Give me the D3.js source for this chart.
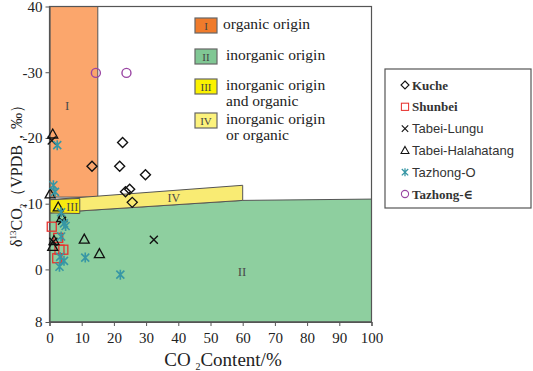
<!DOCTYPE html>
<html>
<head>
<meta charset="utf-8">
<script src="https://cdn.jsdelivr.net/npm/d3@7"></script>
<style>
  body { margin: 0; background: #fff; }
  svg { display: block; }
</style>
</head>
<body>
<svg id="chart" width="533" height="371"></svg>
<script>
// axis ticks
const xTicks = [0, 10, 20, 30, 40, 50, 60, 70, 80, 90, 100];
const yTicks = [-40, -30, -20, -10, 0, 8];
const yTickLabels = ["40", "-30", "-20", "-10", "0", "8"];

// genesis regions (CO2 %, d13C)
const regionI = [[0, -40], [15, -40], [15, -11], [0, -11]];
const regionII = [[0, -8.6], [60, -10.5], [100, -10.7], [100, 8], [0, 8]];
const regionIV = [[0, -10.6], [60, -12.8], [60, -10.5], [0, -8.6]];
const regionIII = [[0, -10.6], [9.4, -10.8], [9.4, -8.5], [0, -8.6]];

// sample series
const kuche = [[22.7, -19.3], [13.2, -15.7], [21.8, -15.7], [29.8, -14.4], [24.9, -12.2], [23.6, -11.8], [25.7, -10.2]];
const shunbei = [[0.7, -6.5], [2.7, -4.8], [3.1, -3.0], [4.3, -3.0], [2.4, -1.7]];
const tabeiLungu = [[0.7, -19.6], [3.9, -7.4], [1.2, -4.2], [32.4, -4.5]];
const tabeiHalahatang = [[1.0, -20.6], [0.2, -11.5], [2.7, -9.5], [3.8, -7.9], [1.4, -4.4], [1.0, -3.5], [10.8, -4.6], [15.5, -2.4]];
const tazhongO = [[2.4, -18.9], [1.2, -12.8], [1.7, -11.8], [3.6, -8.7], [4.5, -7.0], [5.0, -6.6], [3.6, -5.0], [3.3, -1.9], [4.5, -1.3], [3.1, -0.4], [11.1, -1.8], [22.0, 0.8]];
const tazhongE = [[14.4, -29.9], [23.9, -29.9]];

const svg = d3.select("#chart");
const serif = "'Liberation Serif', 'DejaVu Serif', serif";
const sans = "'Liberation Sans', Arial, sans-serif";

const x = d3.scaleLinear().domain([0, 100]).range([49.5, 371.5]);
const y = d3.scaleLinear().domain([-40, 8]).range([6.5, 322]);

const line = d3.line().x(d => x(d[0])).y(d => y(d[1]));
const poly = (pts, fill) =>
  svg.append("path")
    .attr("d", line(pts) + "Z")
    .attr("fill", fill)
    .attr("stroke", "#555")
    .attr("stroke-width", 1);

// regions
poly(regionI, "#fba66c");
poly(regionII, "#8ecf9f");
poly(regionIV, "#f9eb73");
poly(regionIII, "#f7ea10");

const roman = (t, px, py, size) =>
  svg.append("text")
    .attr("x", px).attr("y", py)
    .attr("text-anchor", "middle")
    .attr("font-family", serif)
    .attr("font-size", size)
    .attr("fill", "#4a4a4a")
    .text(t);

roman("I", x(5.5), y(-24.3), 13);
roman("II", x(59.8), y(1.0), 13);
roman("III", x(7.1), y(-8.9), 12);
roman("IV", x(38.6), y(-10.3), 12);

// frame
svg.append("rect")
  .attr("x", x(0)).attr("y", y(-40))
  .attr("width", x(100) - x(0)).attr("height", y(8) - y(-40))
  .attr("fill", "none").attr("stroke", "#555").attr("stroke-width", 1.2);

// axes
const xAxis = svg.append("g")
  .attr("transform", `translate(0,${y(8)})`)
  .call(d3.axisBottom(x).tickValues(xTicks).tickSize(4).tickPadding(6));
const yAxis = svg.append("g")
  .attr("transform", `translate(${x(0)},0)`)
  .call(d3.axisLeft(y).tickValues(yTicks).tickSize(4).tickPadding(3)
    .tickFormat((d, i) => yTickLabels[i]));
[xAxis, yAxis].forEach(a => {
  a.select(".domain").attr("stroke", "#555").attr("stroke-width", 1.2);
  a.selectAll(".tick line").attr("stroke", "#555");
  a.selectAll(".tick text")
    .attr("font-family", serif).attr("font-size", 15).attr("fill", "#222");
});
yAxis.selectAll(".tick").filter(d => d === -40 || d === 8).select("line").remove();

// axis titles
const xt = svg.append("text")
  .attr("x", 223).attr("y", 366)
  .attr("text-anchor", "middle")
  .attr("font-family", serif).attr("font-size", 19).attr("fill", "#222");
xt.append("tspan").text("CO ");
xt.append("tspan").attr("font-size", 10).attr("dy", 4).text("2");
xt.append("tspan").attr("dy", -4).text("Content/%");

const yt = svg.append("text")
  .attr("transform", "translate(22,172) rotate(-90)")
  .attr("text-anchor", "middle")
  .attr("font-family", serif).attr("font-size", 16).attr("fill", "#222");
yt.append("tspan").text("δ");
yt.append("tspan").attr("font-size", 9).attr("dy", -6).text("13");
yt.append("tspan").attr("dy", 6).text("CO");
yt.append("tspan").attr("font-size", 9).attr("dy", 4).text("2");
yt.append("tspan").attr("dy", -4).text("（VPDB，‰）");

// marker drawing
function marker(g, type, color) {
  if (type === "diamond") {
    g.append("path").attr("d", "M0,-5L5,0L0,5L-5,0Z")
      .attr("fill", "none").attr("stroke", color).attr("stroke-width", 1.4);
  } else if (type === "square") {
    g.append("rect").attr("x", -4.5).attr("y", -4.5).attr("width", 9).attr("height", 9)
      .attr("fill", "none").attr("stroke", color).attr("stroke-width", 1.3);
  } else if (type === "cross") {
    g.append("path").attr("d", "M-4,-4L4,4M-4,4L4,-4")
      .attr("stroke", color).attr("stroke-width", 1.4);
  } else if (type === "triangle") {
    g.append("path").attr("d", "M0,-5L5,4L-5,4Z")
      .attr("fill", "none").attr("stroke", color).attr("stroke-width", 1.3);
  } else if (type === "star") {
    g.append("path").attr("d", "M-4,-4L4,4M-4,4L4,-4M0,-5L0,5")
      .attr("stroke", color).attr("stroke-width", 1.6);
  } else if (type === "circle") {
    g.append("circle").attr("r", 4.5)
      .attr("fill", "none").attr("stroke", color).attr("stroke-width", 1.4);
  }
}

const series = [
  { name: "Kuche", data: kuche, type: "diamond", color: "#111", font: serif, size: 13, weight: "bold" },
  { name: "Shunbei", data: shunbei, type: "square", color: "#e8322f", font: serif, size: 13, weight: "bold" },
  { name: "Tabei-Lungu", data: tabeiLungu, type: "cross", color: "#111", font: sans, size: 13, weight: "normal" },
  { name: "Tabei-Halahatang", data: tabeiHalahatang, type: "triangle", color: "#111", font: sans, size: 13, weight: "normal" },
  { name: "Tazhong-O", data: tazhongO, type: "star", color: "#3797a5", font: sans, size: 13, weight: "normal" },
  { name: "Tazhong-∈", data: tazhongE, type: "circle", color: "#9a45a3", font: serif, size: 13, weight: "bold" },
];

series.forEach(s => {
  svg.append("g").selectAll("g")
    .data(s.data)
    .join("g")
    .attr("transform", d => `translate(${x(d[0])},${y(d[1])})`)
    .each(function () { marker(d3.select(this), s.type, s.color); });
});

// region legend
const regionLegend = [
  { num: "I", fill: "#f07b2b", lines: ["organic origin"] },
  { num: "II", fill: "#80c794", lines: ["inorganic origin"] },
  { num: "III", fill: "#fbf200", lines: ["inorganic origin", "and organic"] },
  { num: "IV", fill: "#fcf27c", lines: ["inorganic origin", "or organic"] },
];
const regionY = [18, 49, 79, 113];
regionLegend.forEach((r, i) => {
  const g = svg.append("g").attr("transform", `translate(195,${regionY[i]})`);
  g.append("rect").attr("width", 22).attr("height", 15)
    .attr("fill", r.fill).attr("stroke", "#666").attr("stroke-width", 1.2);
  g.append("text").attr("x", 11).attr("y", 11.5).attr("text-anchor", "middle")
    .attr("font-family", serif).attr("font-size", 11).attr("fill", "#444").text(r.num);
  r.lines.forEach((t, j) => {
    g.append("text").attr("x", i === 0 ? 28 : 31).attr("y", 11 + j * 16)
      .attr("font-family", serif).attr("font-size", 15.5).attr("fill", "#222").text(t);
  });
});

// series legend
svg.append("rect")
  .attr("x", 385).attr("y", 69).attr("width", 146).attr("height", 139)
  .attr("fill", "#fff").attr("stroke", "#555").attr("stroke-width", 1.2);
series.forEach((s, i) => {
  const g = svg.append("g").attr("transform", `translate(405,${85 + i * 21.8})`);
  const m = g.append("g").attr("transform", "scale(0.8)");
  marker(m, s.type, s.color);
  g.append("text").attr("x", 7).attr("y", 4.5)
    .attr("font-family", s.font).attr("font-size", s.size)
    .attr("font-weight", s.weight).attr("fill", "#333").text(s.name);
});
</script>
</body>
</html>
